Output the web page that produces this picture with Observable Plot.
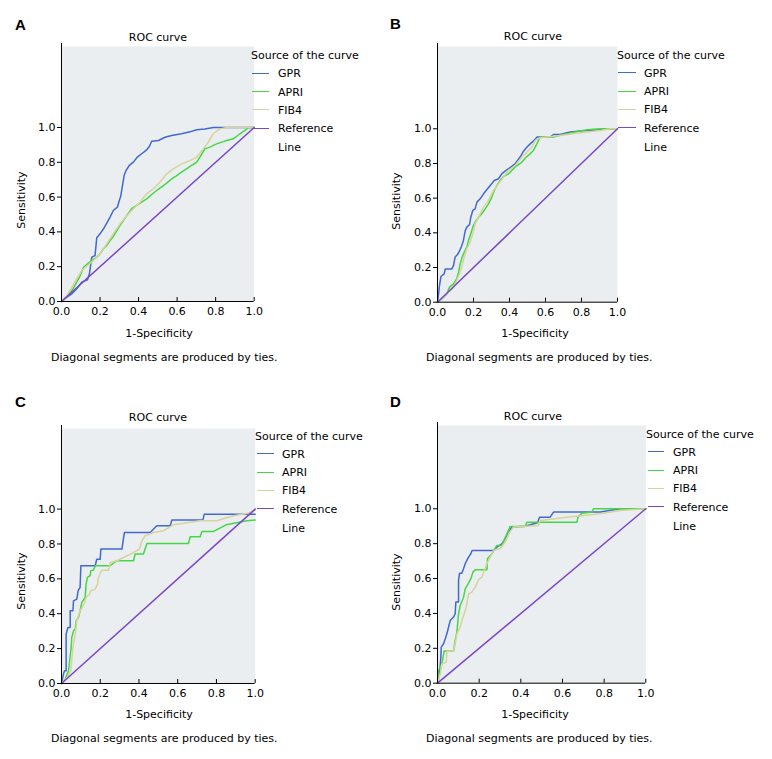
<!DOCTYPE html>
<html><head><meta charset="utf-8">
<script src="https://cdn.jsdelivr.net/npm/d3@7"></script>
<script src="https://cdn.jsdelivr.net/npm/@observablehq/plot@0.6"></script>
<style>
body{margin:0;background:#fff;}
#root{position:relative;width:772px;height:759px;font-family:"DejaVu Sans",sans-serif;font-size:11px;color:#000;overflow:hidden;}
.t{position:absolute;white-space:nowrap;line-height:1;}
.sw{position:absolute;height:0;border-top:1px solid;}
</style></head><body><div id="root"></div>
<script>
// ---------- data ----------
const panelLetters = ["A", "B", "C", "D"];
const seriesNames = ["GPR", "APRI", "FIB4"];
const referenceName = ["Reference", "Line"];
const titleText = "ROC curve";
const legendTitle = "Source of the curve";
const xLabel = "1-Specificity";
const yLabel = "Sensitivity";
const captionText = "Diagonal segments are produced by ties.";
const tickValues = [0, 0.2, 0.4, 0.6, 0.8, 1.0];
const tickLabels = ["0.0", "0.2", "0.4", "0.6", "0.8", "1.0"];
const referenceLine = [[0, 0], [1, 1]];

const gprA = [[0,0],[0.028,0.025],[0.054,0.044],[0.079,0.073],[0.105,0.111],[0.135,0.125],[0.145,0.159],[0.157,0.255],[0.174,0.264],[0.183,0.366],[0.2,0.389],[0.218,0.418],[0.235,0.45],[0.252,0.485],[0.269,0.523],[0.29,0.542],[0.3,0.58],[0.307,0.603],[0.318,0.676],[0.325,0.724],[0.335,0.753],[0.352,0.782],[0.373,0.801],[0.394,0.83],[0.416,0.849],[0.439,0.868],[0.456,0.891],[0.468,0.921],[0.503,0.925],[0.537,0.944],[0.572,0.954],[0.623,0.964],[0.667,0.975],[0.701,0.987],[0.744,0.992],[0.788,1],[1,1]];
const apriA = [[0,0],[0.028,0.029],[0.054,0.063],[0.079,0.111],[0.097,0.149],[0.114,0.197],[0.135,0.216],[0.157,0.236],[0.183,0.255],[0.2,0.274],[0.218,0.303],[0.235,0.322],[0.252,0.35],[0.269,0.374],[0.287,0.408],[0.304,0.437],[0.321,0.465],[0.339,0.494],[0.364,0.533],[0.39,0.552],[0.416,0.571],[0.442,0.59],[0.468,0.615],[0.494,0.638],[0.52,0.659],[0.546,0.68],[0.572,0.705],[0.598,0.724],[0.623,0.743],[0.649,0.762],[0.675,0.782],[0.701,0.8],[0.718,0.829],[0.744,0.877],[0.77,0.887],[0.805,0.906],[0.831,0.916],[0.857,0.925],[0.892,0.935],[0.926,0.964],[0.952,0.983],[0.969,0.998],[1,1]];
const fibA = [[0,0],[0.028,0.034],[0.054,0.082],[0.079,0.13],[0.105,0.178],[0.135,0.207],[0.166,0.236],[0.2,0.274],[0.235,0.331],[0.269,0.389],[0.304,0.446],[0.339,0.494],[0.373,0.533],[0.408,0.571],[0.442,0.619],[0.477,0.648],[0.511,0.686],[0.546,0.734],[0.58,0.762],[0.623,0.791],[0.667,0.81],[0.701,0.829],[0.736,0.877],[0.762,0.916],[0.788,0.964],[0.822,0.992],[0.857,1],[1,1]];

const gprB = [[0,0],[0.006,0.048],[0.011,0.096],[0.019,0.148],[0.037,0.163],[0.043,0.192],[0.08,0.192],[0.089,0.212],[0.098,0.26],[0.111,0.275],[0.122,0.294],[0.135,0.327],[0.144,0.356],[0.154,0.413],[0.163,0.433],[0.178,0.448],[0.185,0.49],[0.196,0.529],[0.209,0.538],[0.219,0.577],[0.237,0.596],[0.256,0.625],[0.27,0.644],[0.293,0.673],[0.315,0.702],[0.339,0.712],[0.357,0.74],[0.381,0.76],[0.407,0.779],[0.431,0.798],[0.459,0.837],[0.478,0.871],[0.496,0.894],[0.515,0.913],[0.537,0.933],[0.552,0.952],[0.626,0.952],[0.644,0.967],[0.681,0.967],[0.737,0.981],[0.793,0.987],[0.904,0.994],[0.941,1],[1,1]];
const apriB = [[0,0],[0.024,0.019],[0.052,0.048],[0.067,0.087],[0.089,0.106],[0.107,0.135],[0.117,0.173],[0.126,0.221],[0.137,0.26],[0.148,0.288],[0.163,0.317],[0.172,0.356],[0.185,0.394],[0.196,0.433],[0.209,0.462],[0.228,0.49],[0.246,0.51],[0.265,0.538],[0.283,0.567],[0.302,0.606],[0.315,0.644],[0.33,0.673],[0.348,0.702],[0.367,0.725],[0.394,0.74],[0.413,0.76],[0.441,0.788],[0.469,0.808],[0.493,0.837],[0.515,0.856],[0.533,0.875],[0.552,0.913],[0.57,0.952],[0.644,0.952],[0.7,0.967],[0.765,0.981],[0.83,0.994],[0.904,1],[1,1]];
const fibB = [[0,0],[0.033,0.029],[0.061,0.058],[0.089,0.083],[0.107,0.125],[0.122,0.163],[0.135,0.202],[0.148,0.26],[0.163,0.308],[0.181,0.346],[0.196,0.394],[0.209,0.452],[0.228,0.49],[0.256,0.548],[0.283,0.587],[0.311,0.644],[0.339,0.683],[0.367,0.721],[0.394,0.76],[0.431,0.788],[0.469,0.837],[0.496,0.865],[0.524,0.894],[0.543,0.933],[0.57,0.948],[0.681,0.962],[0.793,0.977],[0.904,0.99],[0.959,1],[1,1]];

const gprC = [[0,0],[0.01,0.054],[0.016,0.073],[0.024,0.073],[0.024,0.283],[0.033,0.321],[0.045,0.321],[0.045,0.417],[0.059,0.417],[0.062,0.474],[0.079,0.484],[0.086,0.532],[0.096,0.551],[0.1,0.675],[0.174,0.675],[0.182,0.713],[0.2,0.713],[0.203,0.771],[0.312,0.771],[0.317,0.809],[0.325,0.866],[0.458,0.866],[0.492,0.904],[0.561,0.904],[0.57,0.937],[0.73,0.937],[0.737,0.971],[1,0.971]];
const apriC = [[0,0],[0.019,0.025],[0.036,0.073],[0.045,0.159],[0.05,0.207],[0.053,0.264],[0.062,0.302],[0.071,0.312],[0.076,0.36],[0.088,0.379],[0.096,0.417],[0.105,0.465],[0.122,0.493],[0.127,0.57],[0.134,0.608],[0.148,0.618],[0.151,0.646],[0.165,0.65],[0.174,0.675],[0.251,0.675],[0.286,0.704],[0.372,0.704],[0.38,0.742],[0.423,0.742],[0.441,0.803],[0.656,0.803],[0.664,0.841],[0.716,0.841],[0.725,0.872],[0.785,0.872],[0.85,0.91],[0.957,0.933],[1,0.937]];
const fibC = [[0,0],[0.028,0.034],[0.048,0.073],[0.059,0.207],[0.071,0.283],[0.079,0.36],[0.096,0.417],[0.117,0.455],[0.127,0.493],[0.145,0.512],[0.151,0.532],[0.174,0.541],[0.186,0.57],[0.191,0.608],[0.2,0.631],[0.208,0.65],[0.243,0.65],[0.251,0.694],[0.286,0.704],[0.363,0.746],[0.403,0.771],[0.415,0.818],[0.432,0.847],[0.475,0.866],[0.527,0.876],[0.578,0.91],[0.716,0.933],[0.802,0.933],[0.888,0.962],[0.957,0.975],[1,0.994]];

const gprD = [[0,0],[0.01,0.054],[0.016,0.149],[0.018,0.207],[0.029,0.226],[0.037,0.254],[0.045,0.283],[0.053,0.321],[0.061,0.359],[0.077,0.379],[0.085,0.398],[0.088,0.465],[0.101,0.465],[0.101,0.589],[0.106,0.631],[0.117,0.631],[0.125,0.656],[0.133,0.685],[0.141,0.704],[0.149,0.723],[0.16,0.742],[0.166,0.761],[0.269,0.761],[0.285,0.78],[0.309,0.799],[0.325,0.828],[0.341,0.866],[0.357,0.895],[0.42,0.9],[0.48,0.92],[0.49,0.952],[0.541,0.952],[0.557,0.981],[0.781,0.981],[0.877,1],[1,1]];
const apriD = [[0,0],[0.005,0.073],[0.013,0.092],[0.021,0.111],[0.032,0.184],[0.077,0.184],[0.085,0.245],[0.093,0.293],[0.101,0.398],[0.109,0.446],[0.125,0.493],[0.133,0.541],[0.149,0.574],[0.16,0.598],[0.17,0.637],[0.181,0.65],[0.237,0.65],[0.24,0.713],[0.261,0.742],[0.285,0.79],[0.309,0.79],[0.333,0.857],[0.349,0.899],[0.421,0.899],[0.429,0.923],[0.669,0.923],[0.675,0.952],[0.693,0.975],[0.741,0.981],[0.749,1],[1,1]];
const fibD = [[0,0],[0.013,0.054],[0.021,0.111],[0.042,0.12],[0.045,0.184],[0.077,0.184],[0.085,0.226],[0.093,0.283],[0.109,0.321],[0.117,0.359],[0.128,0.398],[0.138,0.436],[0.149,0.512],[0.165,0.522],[0.181,0.551],[0.197,0.593],[0.213,0.608],[0.237,0.685],[0.253,0.723],[0.269,0.761],[0.301,0.771],[0.325,0.809],[0.346,0.866],[0.365,0.895],[0.485,0.904],[0.493,0.933],[0.621,0.952],[0.781,0.971],[0.877,0.99],[1,1]];

const panelSeries = [[gprA, apriA, fibA], [gprB, apriB, fibB], [gprC, apriC, fibC], [gprD, apriD, fibD]];

// ---------- styles & layout ----------
const seriesColors = ["#4169d0", "#43d843", "#d6d39c"];
const referenceColor = "#7b46c9";
const panelBg = "#ebeef0";

const layouts = [
  {x0: 61.3, x1: 254, top: 46, zero: 301, one: 127, letter: [15, 18], title: [158, 37], xlab: [159, 333], ylab: [21, 200], cap: [51, 357], leg: {x: 251, y: 55, sw1: 252, sw2: 269, tx: 278}},
  {x0: 436.7, x1: 616.7, top: 46, zero: 301.7, one: 128.3, letter: [390, 17], title: [533, 36], xlab: [535, 333], ylab: [396, 201], cap: [426, 357], leg: {x: 617, y: 54.5, sw1: 618, sw2: 636, tx: 644}},
  {x0: 61.3, x1: 255, top: 427.7, zero: 682.7, one: 508.3, letter: [15, 395], title: [158, 417], xlab: [159, 714], ylab: [21, 581], cap: [51, 737.5], leg: {x: 255, y: 435.5, sw1: 257, sw2: 274, tx: 282}},
  {x0: 436.7, x1: 645, top: 425, zero: 682.7, one: 508.3, letter: [390, 395], title: [533, 416], xlab: [535, 714], ylab: [396, 582], cap: [426, 737.5], leg: {x: 646, y: 433.5, sw1: 648, sw2: 664, tx: 673}}
];

const root = document.getElementById("root");
function addText(txt, x, y, opts = {}) {
  const d = document.createElement("div");
  d.className = "t";
  d.textContent = txt;
  d.style.left = x + "px";
  d.style.top = y + "px";
  let tf = opts.center ? "translate(-50%,-50%)" : "translateY(-50%)";
  if (opts.rotate) tf += " rotate(-90deg)";
  d.style.transform = tf;
  if (opts.bold) { d.style.fontWeight = "bold"; d.style.fontFamily = "'Liberation Sans', Arial, sans-serif"; }
  if (opts.size) d.style.fontSize = opts.size + "px";
  root.appendChild(d);
  return d;
}
function addSwatch(x1, x2, y, color) {
  const d = document.createElement("div");
  d.className = "sw";
  d.style.left = x1 + "px";
  d.style.top = (y - 0.5) + "px";
  d.style.width = (x2 - x1) + "px";
  d.style.borderTopColor = color;
  root.appendChild(d);
}

const fmt = d => tickLabels[tickValues.indexOf(d)];
const mL = 48, mR = 6, mT = 5, mB = 24;

layouts.forEach((g, p) => {
  const plotW = g.x1 - g.x0, plotH = g.zero - g.top;
  const yMax = (g.zero - g.top) / (g.zero - g.one);
  const marks = [Plot.frame({fill: panelBg, stroke: null})];
  panelSeries[p].forEach((data, i) => {
    marks.push(Plot.line(data, {x: d => d[0], y: d => d[1], stroke: seriesColors[i], strokeWidth: 1.5}));
  });
  marks.push(
    Plot.line(referenceLine, {x: d => d[0], y: d => d[1], stroke: referenceColor, strokeWidth: 1.5}),
    Plot.ruleY([0], {stroke: "#000"}),
    Plot.ruleX([0], {stroke: "#000", insetTop: -3}),
    Plot.axisY({ticks: tickValues, tickFormat: fmt, tickSize: 4, tickPadding: 2, label: null, stroke: "#000", fill: "#000"}),
    Plot.axisX({ticks: tickValues, tickFormat: fmt, tickSize: 0, tickPadding: 6, label: null, fill: "#000"}),
    Plot.axisX({ticks: tickValues.slice(1), tickSize: 4, dy: -4, text: null, label: null, stroke: "#000"})
  );
  const svg = Plot.plot({
    width: mL + plotW + mR,
    height: mT + plotH + mB,
    marginLeft: mL, marginRight: mR, marginTop: mT, marginBottom: mB,
    x: {domain: [0, 1]},
    y: {domain: [0, yMax]},
    style: {position: "absolute", left: (g.x0 - mL) + "px", top: (g.top - mT) + "px", background: "transparent", overflow: "visible", fontFamily: "DejaVu Sans, sans-serif", fontSize: "11px", color: "#000"},
    marks
  });
  root.appendChild(svg);

  addText(panelLetters[p], g.letter[0], g.letter[1] + 6, {bold: true, size: 15});
  addText(titleText, g.title[0], g.title[1], {center: true});
  addText(xLabel, g.xlab[0], g.xlab[1], {center: true});
  addText(yLabel, g.ylab[0], g.ylab[1], {center: true, rotate: true});
  addText(captionText, g.cap[0], g.cap[1]);
  // legend
  const L = g.leg, step = 18.3;
  addText(legendTitle, L.x, L.y);
  seriesNames.forEach((n, i) => {
    const yy = L.y + step * (i + 1);
    addSwatch(L.sw1, L.sw2, yy, seriesColors[i]);
    addText(n, L.tx, yy);
  });
  const yr = L.y + step * 4;
  addSwatch(L.sw1, L.sw2, yr, referenceColor);
  addText(referenceName[0], L.tx, yr);
  addText(referenceName[1], L.tx, yr + step + 0.8);
});
</script></body></html>
